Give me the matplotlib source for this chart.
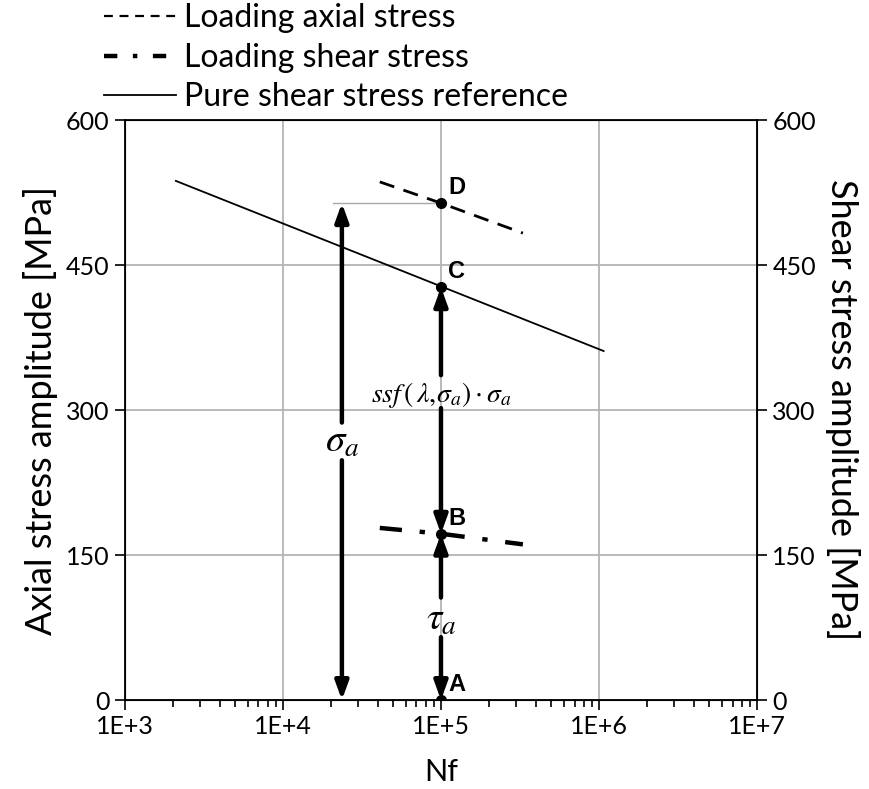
import matplotlib.pyplot as plt
from matplotlib.lines import Line2D

plt.rcParams["font.family"] = ["Lato", "DejaVu Sans"]
plt.rcParams["mathtext.fontset"] = "stix"

# S-N curves (cycles to failure vs stress amplitude, MPa)
nf_ref = [2.1e3, 1.07e6]
ref_stress = [537, 361]
nf_axial = [4.1e4, 1e5, 3.3e5]
axial_stress = [536, 514, 483]
nf_shear = [4.1e4, 1e5, 3.3e5]
shear_stress = [178, 172, 161]

# characteristic points at Nf = 1E+5
point_labels = ["A", "B", "C", "D"]
point_nf = [1e5, 1e5, 1e5, 1e5]
point_stress = [0, 172, 427, 514]

x_ticks = [1e3, 1e4, 1e5, 1e6, 1e7]
x_tick_labels = ["1E+3", "1E+4", "1E+5", "1E+6", "1E+7"]
y_ticks = [0, 150, 300, 450, 600]

fig = plt.figure(figsize=(8.69, 7.89), dpi=100)
ax = fig.add_axes([0.1438, 0.1128, 0.7273, 0.7351])
ax.set_xscale("log")
ax.set_xlim(1e3, 1e7)
ax.set_ylim(0, 600)
ax.set_xticks(x_ticks)
ax.set_xticklabels(x_tick_labels)
ax.set_yticks(y_ticks)
ax.grid(True, which="major", color="#b4b4b4", lw=1.3)
ax.set_axisbelow(True)
for s in ax.spines.values():
    s.set_linewidth(1.3)
ax.tick_params(axis="both", which="major", direction="out", length=7,
               width=1.2, labelsize=18, pad=4)
ax.tick_params(axis="x", which="minor", direction="out", length=5, width=1.2)
ax.set_xlabel("Nf", fontsize=22, labelpad=14)
ax.set_ylabel("Axial stress amplitude [MPa]", fontsize=26, labelpad=6)

ax2 = ax.twinx()
ax2.set_ylim(0, 600)
ax2.set_yticks(y_ticks)
ax2.tick_params(axis="y", direction="out", length=7, width=1.2,
                labelsize=18, pad=4)
ax2.set_ylabel("Shear stress amplitude [MPa]", fontsize=26, rotation=270,
               labelpad=32)

ax.plot(nf_ref, ref_stress, color="black", lw=1.3, zorder=3)
ax.plot(nf_axial, axial_stress, color="black", lw=2.0, dashes=(5.5, 3.5),
        zorder=3)
ax.plot(nf_shear, shear_stress, color="black", lw=3.2,
        dashes=(5, 4, 1.2, 4), zorder=3)

# horizontal guide from the sigma_a arrow to point D
x_sig = 2.36e4
ax.plot([2.07e4, point_nf[3]], [point_stress[3]] * 2, color="#a8a8a8",
        lw=1.0, zorder=2)

ax.plot(point_nf, point_stress, "o", color="black", ms=7, zorder=5)
for lab, x, y in zip(point_labels, point_nf, point_stress):
    ax.annotate(lab, (x, y), xytext=(5, 3), textcoords="offset points",
                ha="left", va="bottom", fontsize=17, fontweight="bold",
                family=["Liberation Sans", "DejaVu Sans"])

arrow = dict(arrowstyle="-|>,head_length=0.55,head_width=0.2",
             mutation_scale=20, lw=3.2, color="black",
             shrinkA=0, shrinkB=0)


def split_arrow(x, top, bottom, gap_top, gap_bottom, text, ty, size):
    ax.annotate("", xy=(x, top), xytext=(x, gap_top), arrowprops=arrow,
                zorder=4)
    ax.annotate("", xy=(x, bottom), xytext=(x, gap_bottom), arrowprops=arrow,
                zorder=4)
    ax.text(x, ty, text, ha="center", va="center", fontsize=size, zorder=4)


split_arrow(x_sig, point_stress[3], point_stress[0], 287, 248,
            r"$\sigma_a$", 268, 28)
split_arrow(point_nf[2], point_stress[2], point_stress[1], 336, 302,
            r"$ssf\,\left(\,\lambda,\!\sigma_a\right)\cdot\sigma_a$",
            316, 20)
split_arrow(point_nf[1], point_stress[1], point_stress[0], 106, 65,
            r"$\tau_a$", 84, 28)

handles = [
    Line2D([], [], color="black", lw=1.6, dashes=(4, 3)),
    Line2D([], [], color="black", lw=3.2, dashes=(3, 3.5, 1, 3.5)),
    Line2D([], [], color="black", lw=1.3),
]
labels = ["Loading axial stress", "Loading shear stress",
          "Pure shear stress reference"]
fig.legend(handles, labels, loc="upper left", bbox_to_anchor=(0.105, 1.012),
           frameon=False, fontsize=23, handlelength=2.25, handletextpad=0.25,
           labelspacing=0.3, borderaxespad=0)

fig.savefig("out.png", dpi=100)
